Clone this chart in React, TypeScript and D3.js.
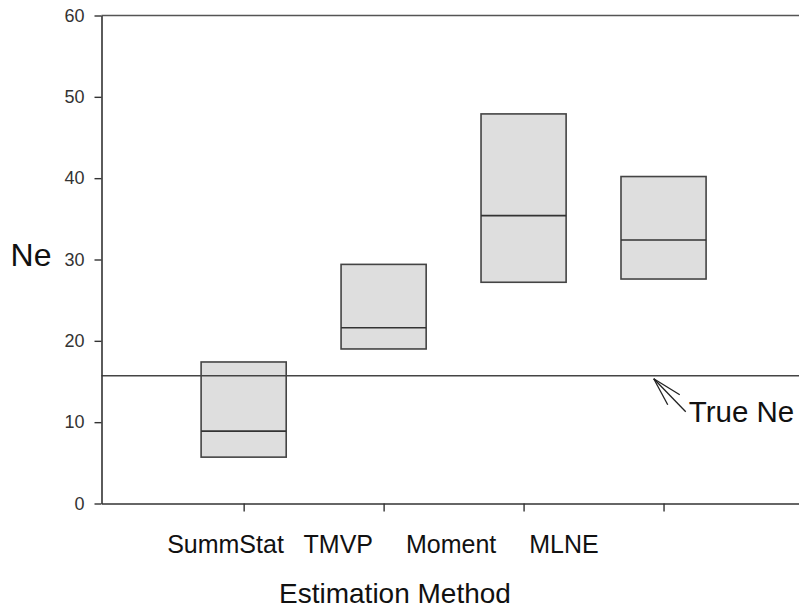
import React, { useEffect, useRef } from 'react';
import * as d3 from 'd3';

// values
const methods = ['SummStat', 'TMVP', 'Moment', 'MLNE'];
const lowValues = [5.7, 19.0, 27.2, 27.6];
const medianValues = [8.9, 21.6, 35.4, 32.4];
const highValues = [17.4, 29.4, 47.9, 40.2];
const trueNe = 15.7;
const yTicks = [0, 10, 20, 30, 40, 50, 60];

const FONT = '"Liberation Sans", Arial, Helvetica, sans-serif';

const App = () => {
  const ref = useRef<SVGSVGElement>(null);

  useEffect(() => {
    const svg = d3.select(ref.current);
    svg.selectAll('*').remove();

    const W = 799;
    const H = 611;
    const left = 101.5;
    const top = 15.5;
    const bottom = 503.5;

    const y = d3.scaleLinear().domain([0, 60]).range([bottom, top]);
    // category positions (box centres / ticks)
    const x = d3.scaleLinear().domain([-1.0157, 4]).range([left, 803.5]);
    // category text sits on its own spacing in the original
    const xLabel = d3.scaleLinear().domain([0, 3]).range([225.5, 564]);
    const halfW = 0.304;

    const ink = '#333';

    // boxes
    const boxes = svg.append('g');
    methods.forEach((m, i) => {
      boxes.append('rect')
        .attr('x', x(i - halfW))
        .attr('y', y(highValues[i]))
        .attr('width', x(i + halfW) - x(i - halfW))
        .attr('height', y(lowValues[i]) - y(highValues[i]))
        .attr('fill', '#dedede')
        .attr('stroke', '#444')
        .attr('stroke-width', 1.6);
      boxes.append('line')
        .attr('x1', x(i - halfW))
        .attr('x2', x(i + halfW))
        .attr('y1', y(medianValues[i]))
        .attr('y2', y(medianValues[i]))
        .attr('stroke', '#333')
        .attr('stroke-width', 1.6);
    });

    // true Ne reference line
    svg.append('line')
      .attr('x1', left)
      .attr('x2', W)
      .attr('y1', y(trueNe))
      .attr('y2', y(trueNe))
      .attr('stroke', '#444')
      .attr('stroke-width', 1.4);

    // top frame line
    svg.append('line')
      .attr('x1', left)
      .attr('x2', W)
      .attr('y1', y(60))
      .attr('y2', y(60))
      .attr('stroke', '#555')
      .attr('stroke-width', 1.6);

    // y axis
    const gy = svg.append('g')
      .attr('transform', `translate(${left},0)`)
      .call(d3.axisLeft(y).tickValues(yTicks).tickSize(7).tickSizeOuter(0).tickPadding(10));
    gy.select('.domain').attr('stroke', ink).attr('stroke-width', 1.6);
    gy.selectAll('.tick line').attr('stroke', ink).attr('stroke-width', 1.4);
    gy.selectAll('.tick text')
      .attr('font-family', FONT)
      .attr('font-size', 18)
      .attr('fill', '#333');

    // x axis
    const gx = svg.append('g')
      .attr('transform', `translate(0,${bottom})`)
      .call(d3.axisBottom(x).tickValues([0, 1, 2, 3]).tickSize(8).tickSizeOuter(0).tickFormat(() => ''));
    gx.select('.domain').attr('stroke', ink).attr('stroke-width', 1.6);
    gx.selectAll('.tick line').attr('stroke', ink).attr('stroke-width', 1.4);

    // category labels
    svg.append('g')
      .selectAll('text')
      .data(methods)
      .join('text')
      .attr('x', (_, i) => xLabel(i))
      .attr('y', 553)
      .attr('text-anchor', 'middle')
      .attr('font-family', FONT)
      .attr('font-size', 25)
      .attr('fill', '#111')
      .text(d => d);

    svg.append('text')
      .attr('x', 395)
      .attr('y', 603)
      .attr('text-anchor', 'middle')
      .attr('font-family', FONT)
      .attr('font-size', 28)
      .attr('fill', '#111')
      .text('Estimation Method');

    svg.append('text')
      .attr('x', 31)
      .attr('y', 266)
      .attr('text-anchor', 'middle')
      .attr('font-family', FONT)
      .attr('font-size', 32)
      .attr('fill', '#111')
      .text('Ne');

    // annotation arrow + label
    const tipX = x(2.93);
    const tipY = y(trueNe) + 3;
    const tailX = tipX + 32;
    const tailY = tipY + 33;
    const arrow = svg.append('g').attr('stroke', '#222').attr('stroke-width', 1.3).attr('fill', 'none');
    arrow.append('line').attr('x1', tipX).attr('y1', tipY).attr('x2', tailX).attr('y2', tailY);
    arrow.append('line').attr('x1', tipX).attr('y1', tipY).attr('x2', tipX + 26).attr('y2', tipY + 16);
    arrow.append('line').attr('x1', tipX).attr('y1', tipY).attr('x2', tipX + 14).attr('y2', tipY + 26);

    svg.append('text')
      .attr('x', tailX + 3)
      .attr('y', 422)
      .attr('font-family', FONT)
      .attr('font-size', 29.5)
      .attr('fill', '#111')
      .text('True Ne');

    svg.attr('width', W).attr('height', H);
  }, []);

  return (
    <div style={{ position: 'absolute', left: 0, top: 0, background: '#fff' }}>
      <svg ref={ref} width={799} height={611} style={{ display: 'block' }}></svg>
    </div>
  );
};

export default App;
